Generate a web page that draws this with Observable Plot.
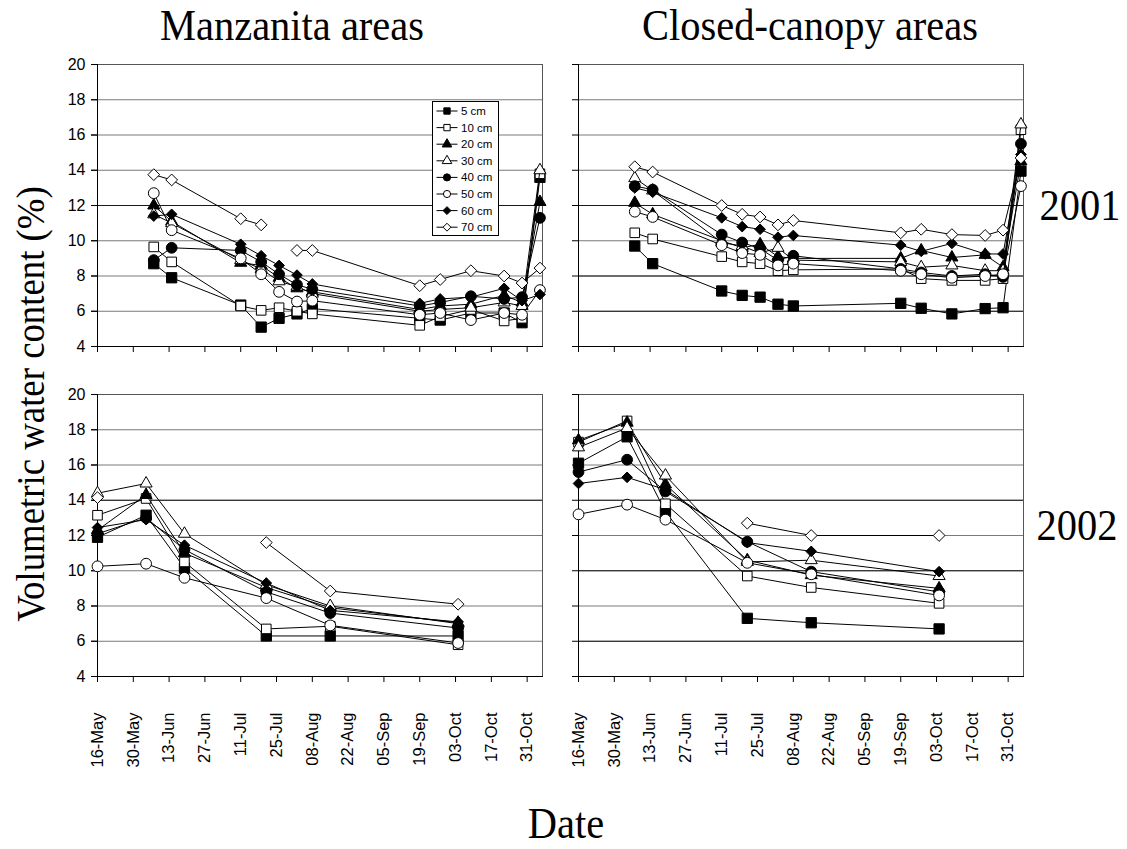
<!DOCTYPE html>
<html>
<head>
<meta charset="utf-8">
<script src="https://cdn.jsdelivr.net/npm/d3@7"></script>
<script src="https://cdn.jsdelivr.net/npm/@observablehq/plot@0.6"></script>
<style>
  html, body { margin: 0; padding: 0; background: white; }
</style>
</head>
<body>
<div id="chart"></div>
<script>
// ---------- data ----------
const areas = ["Manzanita areas", "Closed-canopy areas"];
const years = ["2001", "2002"];
const depths = ["5 cm", "10 cm", "20 cm", "30 cm", "40 cm", "50 cm", "60 cm", "70 cm"];

// axis tick labels (day-month)
const tickLabels = ["16-May", "30-May", "13-Jun", "27-Jun", "11-Jul", "25-Jul", "08-Aug",
  "22-Aug", "05-Sep", "19-Sep", "03-Oct", "17-Oct", "31-Oct"];
const xDomain = ["05-16", "11-06"];
const yTicks = [4, 6, 8, 10, 12, 14, 16, 18, 20];

// sampling dates (MM-DD)
const dates2001 = ["06-07", "06-14", "07-11", "07-19", "07-26", "08-02", "08-08",
  "09-19", "09-27", "10-09", "10-22", "10-29", "11-05"];
const dates2002 = ["05-16", "06-04", "06-19", "07-21", "08-15", "10-04"];

// volumetric water content (%), one row per depth (5,10,20,30,40,50,60,70 cm)
const manzanita2001 = [
  [8.7, 7.9, 6.35, 5.1, 5.6, 5.85, 6.15, 5.6, 5.5, 5.9, 5.9, 5.35, 13.6],
  [9.65, 8.8, 6.3, 6.05, 6.2, 6.0, 5.85, 5.2, 5.7, 6.1, 5.45, 5.6, 13.8],
  [12.0, 11.1, 8.75, 8.6, 7.9, 7.3, 7.1, 6.1, 6.3, 6.4, 6.9, 6.5, 12.2],
  [11.5, 11.0, 8.9, 8.4, 7.7, 7.4, 7.0, 6.0, 6.1, 6.2, 6.5, 6.3, 14.0],
  [8.9, 9.6, 9.45, 8.8, 8.1, 7.5, 7.25, 6.3, 6.5, 6.85, 6.7, 6.8, 11.3],
  [12.7, 10.6, 9.0, 8.1, 7.1, 6.55, 6.6, 5.8, 5.9, 5.5, 5.9, 5.8, 7.2],
  [11.4, 11.5, 9.8, 9.15, 8.6, 8.05, 7.55, 6.45, 6.7, 6.8, 7.3, 6.6, 6.95],
  [13.75, 13.45, 11.25, 10.9, null, 9.45, 9.45, 7.45, 7.8, 8.3, 8.0, 7.6, 8.45]
];
const closed2001 = [
  [9.7, 8.7, 7.15, 6.9, 6.8, 6.4, 6.3, 6.45, 6.17, 5.85, 6.15, 6.2, 13.95],
  [10.45, 10.1, 9.1, 8.8, 8.7, 8.3, 8.35, 8.4, 7.85, 7.75, 7.75, 7.85, 16.3],
  [12.15, 11.5, 10.0, 9.6, 9.8, 9.1, 9.0, 9.0, 9.45, 9.05, 9.2, 8.5, 14.5],
  [13.55, 12.85, 9.9, 9.7, 9.3, 9.6, 8.9, 8.8, 8.5, 8.6, 8.3, 8.3, 16.6],
  [13.1, 12.9, 10.35, 9.9, 9.55, 8.9, 9.15, 8.4, 8.2, 8.0, 8.1, 7.95, 15.5],
  [11.65, 11.35, 9.75, 9.3, 9.2, 8.6, 8.7, 8.3, 8.1, 7.9, 8.0, 8.1, 13.1],
  [13.0, 12.75, 11.3, 10.8, 10.65, 10.2, 10.3, 9.75, 9.4, 9.85, 9.25, 9.25, 14.9],
  [14.2, 13.9, 12.0, 11.5, 11.35, 10.9, 11.15, 10.45, 10.65, 10.35, 10.3, 10.6, 14.7]
];
const manzanita2002 = [
  [11.9, 13.15, 10.15, 6.3, 6.3, 6.3],
  [13.15, 14.1, 10.5, 6.7, 6.85, 5.8],
  [12.3, 14.3, 11.0, 9.05, 7.9, 7.05],
  [14.4, 14.95, 12.1, 9.2, 8.0, 7.0],
  [12.1, 13.0, 11.2, 8.8, 7.6, 6.75],
  [10.25, 10.4, 9.6, 8.45, 6.9, 5.9],
  [12.45, 12.9, 11.45, 9.3, 7.75, 7.1],
  [14.15, null, null, 11.6, 8.85, 8.1]
];
const closed2002 = [
  [16.1, 17.6, 13.35, 7.3, 7.05, 6.7],
  [17.3, 18.5, 13.8, 9.7, 9.05, 8.15],
  [17.4, 18.4, 14.9, 10.6, 9.75, 9.0],
  [17.0, 18.1, 15.4, 10.5, 10.6, 9.7],
  [15.6, 16.3, 14.5, 11.65, 9.95, 8.8],
  [13.2, 13.75, 12.9, 10.45, 9.8, 8.6],
  [14.95, 15.3, 14.6, 11.6, 11.1, 9.95],
  [null, null, null, 12.7, 12.0, 12.0]
];

// horizontal gridlines that print darker in the original
const darkGrid = [
  ["Manzanita areas", "2001", 12],
  ["Closed-canopy areas", "2001", 12], ["Closed-canopy areas", "2001", 8], ["Closed-canopy areas", "2001", 6],
  ["Manzanita areas", "2002", 20], ["Manzanita areas", "2002", 14],
  ["Closed-canopy areas", "2002", 20], ["Closed-canopy areas", "2002", 14],
  ["Closed-canopy areas", "2002", 10], ["Closed-canopy areas", "2002", 6]
];

// marker style per depth
const depthSymbol = ["square", "square", "triangle", "triangle", "circle", "circle", "diamond2", "diamond2"];
const depthFilled = [true, false, true, false, true, false, true, false];
const depthR = [5.8, 5.4, 4.5, 4.5, 5.4, 5.4, 4.8, 5.3];

// ---------- build table ----------
const parseMD = s => new Date(Date.UTC(2001, +s.slice(0, 2) - 1, +s.slice(3)));
const parseLabel = d3.utcParse("%d-%b %Y");
const tickDates = tickLabels.map(l => parseLabel(l + " 2001"));

const panels = [
  {area: areas[0], year: years[0], dates: dates2001, values: manzanita2001},
  {area: areas[1], year: years[0], dates: dates2001, values: closed2001},
  {area: areas[0], year: years[1], dates: dates2002, values: manzanita2002},
  {area: areas[1], year: years[1], dates: dates2002, values: closed2002}
];
const rows = [];
for (const p of panels) {
  p.values.forEach((series, i) => {
    p.dates.forEach((d, j) => {
      rows.push({area: p.area, year: p.year, depth: depths[i], date: parseMD(d), value: series[j]});
    });
  });
}
const darkRows = darkGrid.map(([area, year, value]) => ({area, year, value}));

const seriesMarks = [];
depths.forEach((dep, i) => {
  const sub = rows.filter(r => r.depth === dep);
  seriesMarks.push(Plot.line(sub, {x: "date", y: "value", fx: "area", fy: "year",
    stroke: "black", strokeWidth: 1}));
  seriesMarks.push(Plot.dot(sub.filter(r => r.value != null), {x: "date", y: "value", fx: "area", fy: "year",
    symbol: depthSymbol[i], r: depthR[i], fill: depthFilled[i] ? "black" : "white",
    stroke: "black", strokeWidth: 1}));
});

const svg = Plot.plot({
  width: 1127,
  height: 849,
  marginLeft: 97,
  marginRight: 103,
  marginTop: 63,
  marginBottom: 172,
  style: {fontFamily: "'Liberation Sans', Arial, sans-serif", fontSize: "16px", background: "white", color: "black"},
  x: {type: "utc", domain: xDomain.map(parseMD)},
  y: {domain: [4, 20]},
  fx: {domain: areas, paddingInner: 0.0745, paddingOuter: 0, axis: null},
  fy: {domain: years, paddingInner: 0.145, paddingOuter: 0, axis: null},
  marks: [
    Plot.gridY(yTicks, {stroke: "#7a7a7a", strokeOpacity: 1, facetAnchor: null}),
    Plot.ruleY(darkRows, {y: "value", fx: "area", fy: "year", stroke: "#1a1a1a"}),
    Plot.frame({stroke: "#555"}),
    Plot.frame({anchor: "left", stroke: "black"}),
    Plot.frame({anchor: "bottom", stroke: "black"}),
    Plot.axisY(yTicks, {tickSize: 6, tickPadding: 6, label: null, fontSize: 16}),
    Plot.axisY(yTicks, {tickSize: 6, tickFormat: () => "", facetAnchor: null, label: null}),
    Plot.axisX(tickDates, {tickSize: 6, tickFormat: () => "", facetAnchor: null, label: null}),
    Plot.axisX(tickDates, {tickSize: 0, tickPadding: 36, tickRotate: -90, tickFormat: d3.utcFormat("%d-%b"),
      label: null, fontSize: 16.5}),
    ...seriesMarks
  ]
});

// ---------- annotations ----------
const s = d3.select(svg);
const serif = "'Liberation Serif', 'Times New Roman', serif";
function title(txt, x, y, size, rotate = 0, sx = 0.92) {
  s.append("text")
    .attr("transform", `translate(${x},${y}) rotate(${rotate}) scale(${sx},1)`)
    .attr("text-anchor", "middle")
    .attr("font-family", serif)
    .attr("font-size", size)
    .attr("fill", "black")
    .text(txt);
}
title(areas[0], 292, 40, 44);
title(areas[1], 810, 40, 44);
title(years[0], 1080, 220, 44);
title(years[1], 1077, 540, 44);
title("Volumetric water content (%)", 44, 404, 40, -90);
title("Date", 566, 838, 44);

// legend inside the Manzanita 2001 panel
const lg = s.append("g");
lg.append("rect").attr("x", 432.5).attr("y", 101.5).attr("width", 66).attr("height", 134)
  .attr("fill", "white").attr("stroke", "black").attr("stroke-width", 1);
const symMap = {square: d3.symbolSquare, triangle: d3.symbolTriangle, circle: d3.symbolCircle,
  diamond2: d3.symbolDiamond2 || d3.symbolDiamond};
depths.forEach((dep, i) => {
  const y = 111 + i * 16.6;
  lg.append("line").attr("x1", 436.5).attr("x2", 457.5).attr("y1", y).attr("y2", y)
    .attr("stroke", "black").attr("stroke-width", 1);
  lg.append("path").attr("d", d3.symbol(symMap[depthSymbol[i]], 40)())
    .attr("transform", `translate(447,${y})`)
    .attr("fill", depthFilled[i] ? "black" : "white").attr("stroke", "black").attr("stroke-width", 1);
  lg.append("text").attr("x", 461).attr("y", y).attr("dy", "0.35em")
    .attr("text-anchor", "start")
    .attr("font-family", "'Liberation Sans', Arial, sans-serif").attr("font-size", 11.5)
    .attr("fill", "black").text(dep);
});

document.getElementById("chart").appendChild(svg);
</script>
</body>
</html>
